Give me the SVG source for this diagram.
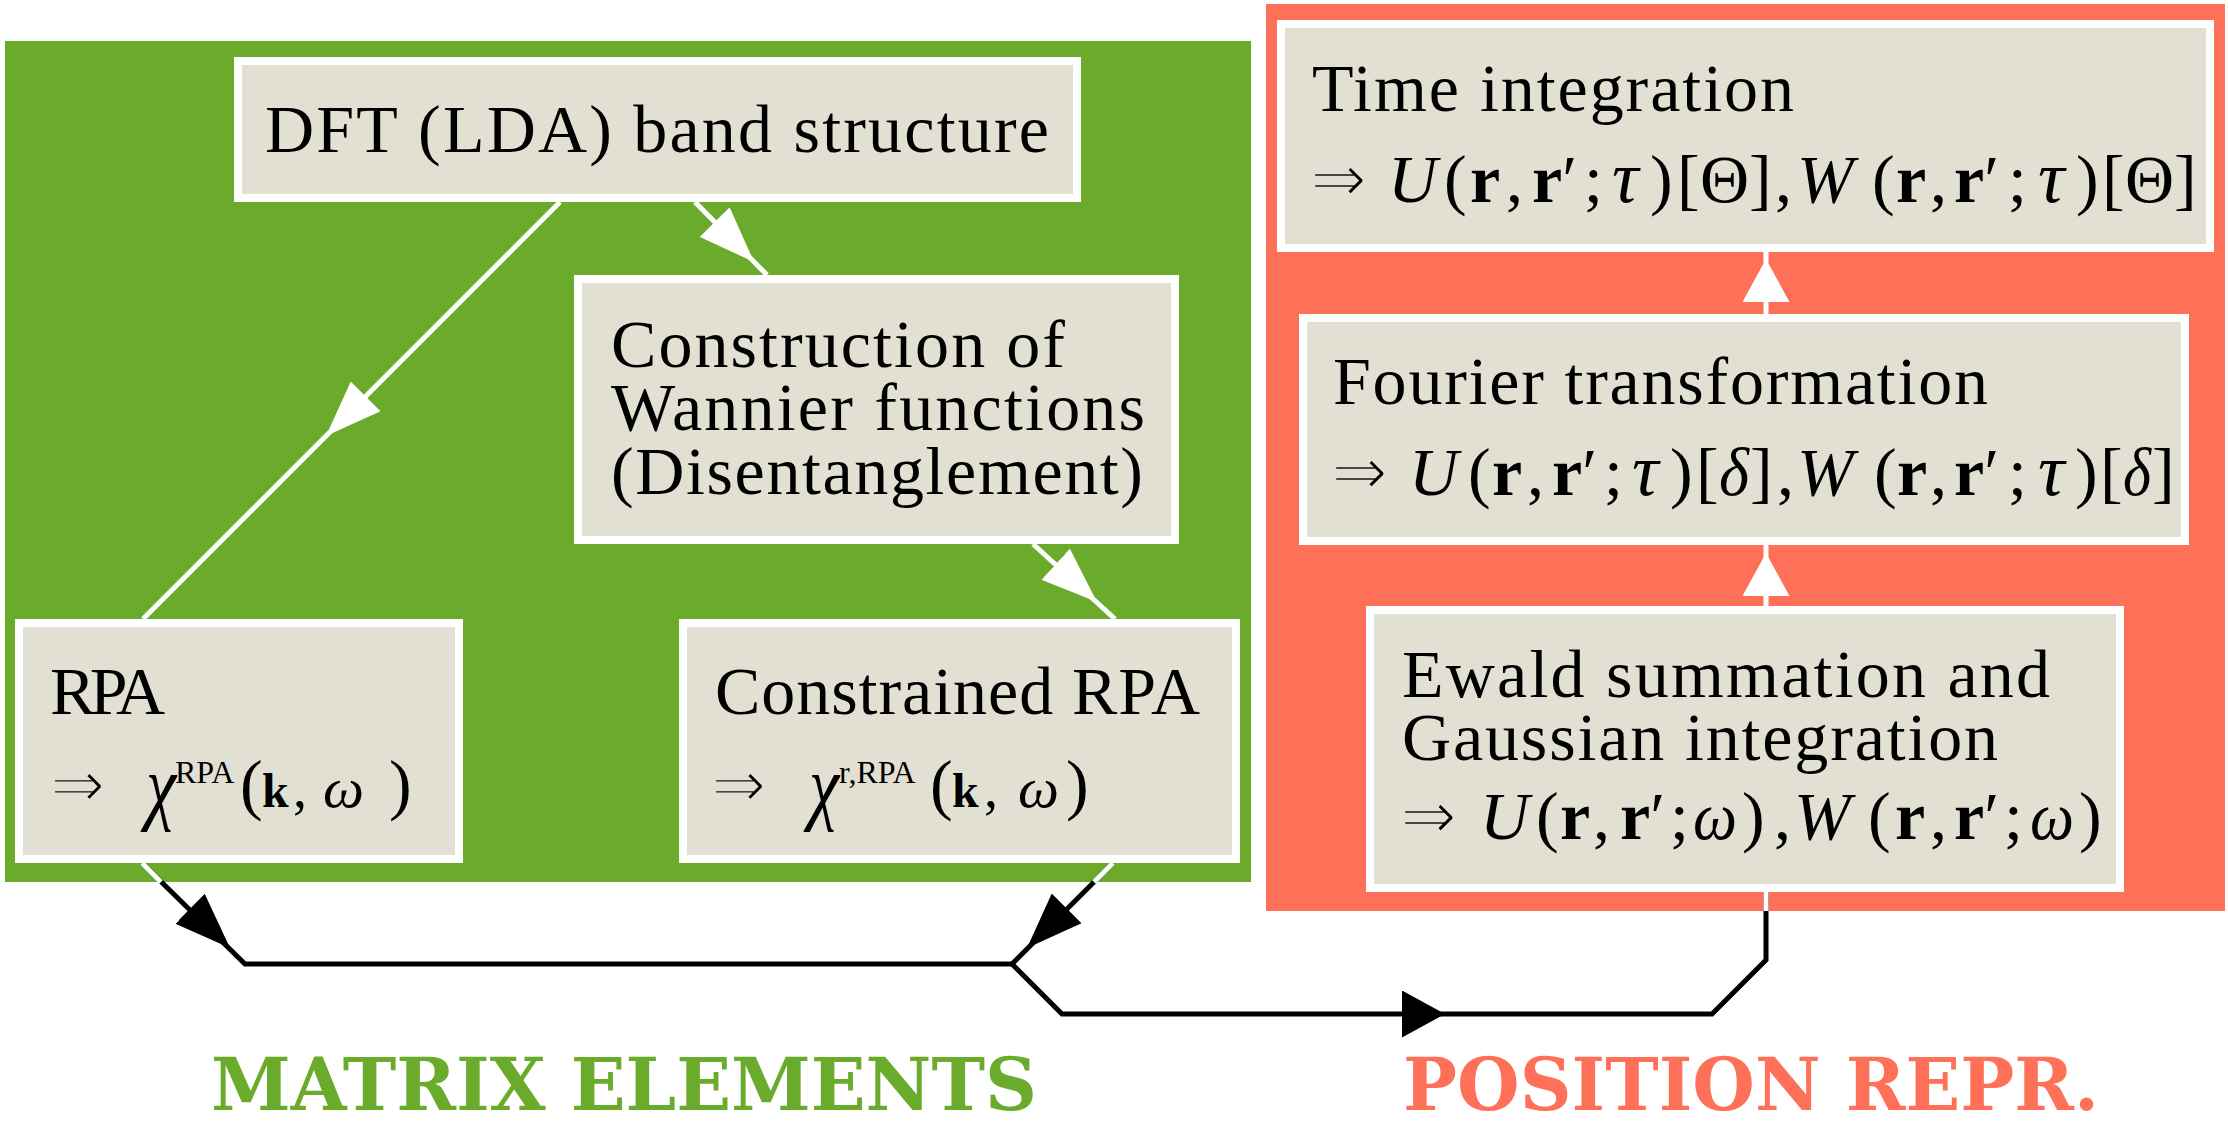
<svg xmlns="http://www.w3.org/2000/svg" width="2228" height="1125" viewBox="0 0 2228 1125">
<style>
.panelG{fill:#6BAB2B}
.panelR{fill:#FF7058}
.box{fill:#E2E0D3;stroke:#FFFFFF;stroke-width:8}
.t{font-family:"Liberation Serif","DejaVu Serif",serif;font-size:68px;fill:#000}
.m{font-family:"Liberation Serif","DejaVu Serif",serif;font-size:68px;fill:#000}
.ar{font-family:"DejaVu Sans","Liberation Sans",sans-serif;stroke:#E2E0D3;stroke-width:2.6px}
.i{font-style:italic}
.b{font-weight:bold}
.sup{font-size:32px}
.tau{font-size:74px}
.lw{fill:none;stroke:#FFFFFF;stroke-width:5}
.lb{fill:none;stroke:#000000;stroke-width:5}
.lab{font-family:"DejaVu Serif","Liberation Serif",serif;font-size:73px;font-weight:bold}
</style>
<defs>
<marker id="aw" viewBox="0 0 56 42" markerWidth="56" markerHeight="42" refX="56" refY="21" orient="auto" markerUnits="userSpaceOnUse"><path d="M0,0 L56,21 L0,42 z" fill="#FFFFFF"/></marker>
<marker id="ab" viewBox="0 0 56 42" markerWidth="56" markerHeight="42" refX="56" refY="21" orient="auto" markerUnits="userSpaceOnUse"><path d="M0,0 L56,21 L0,42 z" fill="#000000"/></marker>
<marker id="aw2" viewBox="0 0 43 47" markerWidth="43" markerHeight="47" refX="43" refY="23.5" orient="auto" markerUnits="userSpaceOnUse"><path d="M0,0 L43,23.5 L0,47 z" fill="#FFFFFF"/></marker>
<marker id="ab2" viewBox="0 0 43 47" markerWidth="43" markerHeight="47" refX="43" refY="23.5" orient="auto" markerUnits="userSpaceOnUse"><path d="M0,0 L43,23.5 L0,47 z" fill="#000000"/></marker>
</defs>
<rect width="2228" height="1125" fill="#FFFFFF"/>
<g id="panels">
<rect class="panelG" x="5" y="41" width="1246" height="841"/>
<rect class="panelR" x="1266" y="4" width="959" height="907"/>
</g>
<g id="connectors">
<path class="lw" d="M560,202 L143,619"/>
<path d="M365.6,396.4 L326,436" marker-end="url(#aw)"/>
<path class="lw" d="M695,202 L767,275"/>
<path d="M714.7,222.1 L754,262" marker-end="url(#aw)"/>
<path class="lw" d="M1033,544 L1115,619"/>
<path d="M1055.7,564.2 L1097,602" marker-end="url(#aw)"/>
<path class="lb" d="M142,863 L245,964 L1012,964"/>
<path class="lw" d="M142,863 L161,882"/>
<path d="M190,908.8 L230,948" marker-end="url(#ab)"/>
<path class="lb" d="M1113,863 L1012,964"/>
<path class="lw" d="M1113,863 L1094,882"/>
<path d="M1066.6,908.4 L1027,948" marker-end="url(#ab)"/>
<path class="lb" d="M1012,964 L1062,1014 L1712,1014 L1766,960 L1766,892"/>
<path class="lw" d="M1766,892 L1766,911"/>
<path d="M1402,1014 L1445,1014" marker-end="url(#ab2)"/>
<path class="lw" d="M1766,606 L1766,545"/>
<path d="M1766,596 L1766,553" marker-end="url(#aw2)"/>
<path class="lw" d="M1766,314 L1766,252"/>
<path d="M1766,302 L1766,259" marker-end="url(#aw2)"/>
</g>
<g id="node-dft">
<rect class="box" x="238" y="61" width="839" height="137"/>
<text class="t" x="265" y="152" textLength="784" lengthAdjust="spacing">DFT (LDA) band structure</text>
</g>
<g id="node-wannier">
<rect class="box" x="578" y="279" width="597" height="261"/>
<text class="t" x="611" y="367" textLength="454" lengthAdjust="spacing">Construction of</text>
<text class="t" x="611" y="430" textLength="534" lengthAdjust="spacing">Wannier functions</text>
<text class="t" x="611" y="494" textLength="532" lengthAdjust="spacing">(Disentanglement)</text>
</g>
<g id="node-rpa">
<rect class="box" x="19" y="623" width="440" height="236"/>
<text class="t" x="50" y="714" textLength="115" lengthAdjust="spacing">RPA</text>
<text class="m" y="807"><tspan class="ar" x="50" font-size="66">⇒</tspan><tspan class="i" x="146" y="814" font-size="84" textLength="30" lengthAdjust="spacingAndGlyphs">χ</tspan><tspan class="sup" x="175" y="783">RPA</tspan><tspan x="240" y="807">(</tspan><tspan class="b" x="262" font-size="48">k</tspan><tspan x="293" font-size="56">,</tspan><tspan class="i" x="323" font-size="58" textLength="41" lengthAdjust="spacingAndGlyphs">ω</tspan><tspan x="389">)</tspan></text>
</g>
<g id="node-crpa">
<rect class="box" x="683" y="623" width="553" height="236"/>
<text class="t" x="715" y="714" textLength="485" lengthAdjust="spacing">Constrained RPA</text>
<text class="m" y="807"><tspan class="ar" x="711" font-size="66">⇒</tspan><tspan class="i" x="809" y="814" font-size="84" textLength="30" lengthAdjust="spacingAndGlyphs">χ</tspan><tspan class="sup" x="839" y="783">r,RPA</tspan><tspan x="930" y="807">(</tspan><tspan class="b" x="952" font-size="48">k</tspan><tspan x="984" font-size="56">,</tspan><tspan class="i" x="1018" font-size="58" textLength="41" lengthAdjust="spacingAndGlyphs">ω</tspan><tspan x="1066">)</tspan></text>
</g>
<g id="node-time">
<rect class="box" x="1281" y="24" width="929" height="224"/>
<text class="t" x="1312" y="111" textLength="482" lengthAdjust="spacing">Time integration</text>
<text class="m" y="202"><tspan class="ar" x="1310">⇒</tspan><tspan class="i" x="1388">U</tspan><tspan x="1444">(</tspan><tspan class="b" x="1470">r</tspan><tspan x="1506">,</tspan><tspan class="b" x="1532">r</tspan><tspan>′</tspan><tspan x="1584">;</tspan><tspan class="i tau" x="1612">τ</tspan><tspan x="1650">)</tspan><tspan x="1677">[</tspan><tspan x="1700">Θ</tspan><tspan x="1749">]</tspan><tspan x="1775">,</tspan><tspan class="i" x="1797">W</tspan><tspan x="1872">(</tspan><tspan class="b" x="1896">r</tspan><tspan x="1930">,</tspan><tspan class="b" x="1954">r</tspan><tspan>′</tspan><tspan x="2008">;</tspan><tspan class="i tau" x="2038">τ</tspan><tspan x="2076">)</tspan><tspan x="2102">[</tspan><tspan x="2125">Θ</tspan><tspan x="2174">]</tspan></text>
</g>
<g id="node-fourier">
<rect class="box" x="1303" y="318" width="882" height="223"/>
<text class="t" x="1333" y="404" textLength="655" lengthAdjust="spacing">Fourier transformation</text>
<text class="m" y="495"><tspan class="ar" x="1331">⇒</tspan><tspan class="i" x="1409">U</tspan><tspan x="1468">(</tspan><tspan class="b" x="1492">r</tspan><tspan x="1527">,</tspan><tspan class="b" x="1552">r</tspan><tspan>′</tspan><tspan x="1604">;</tspan><tspan class="i tau" x="1632">τ</tspan><tspan x="1670">)</tspan><tspan x="1696">[</tspan><tspan class="i" x="1719" textLength="30" lengthAdjust="spacingAndGlyphs">δ</tspan><tspan x="1750">]</tspan><tspan x="1777">,</tspan><tspan class="i" x="1797">W</tspan><tspan x="1874">(</tspan><tspan class="b" x="1897">r</tspan><tspan x="1930">,</tspan><tspan class="b" x="1954">r</tspan><tspan>′</tspan><tspan x="2008">;</tspan><tspan class="i tau" x="2038">τ</tspan><tspan x="2075">)</tspan><tspan x="2100">[</tspan><tspan class="i" x="2123" textLength="28" lengthAdjust="spacingAndGlyphs">δ</tspan><tspan x="2152">]</tspan></text>
</g>
<g id="node-ewald">
<rect class="box" x="1370" y="610" width="750" height="278"/>
<text class="t" x="1402" y="697" textLength="648" lengthAdjust="spacing">Ewald summation and</text>
<text class="t" x="1402" y="760" textLength="596" lengthAdjust="spacing">Gaussian integration</text>
<text class="m" y="839"><tspan class="ar" x="1400">⇒</tspan><tspan class="i" x="1480">U</tspan><tspan x="1536">(</tspan><tspan class="b" x="1560">r</tspan><tspan x="1593">,</tspan><tspan class="b" x="1620">r</tspan><tspan>′</tspan><tspan x="1670">;</tspan><tspan class="i" x="1693" textLength="44" lengthAdjust="spacingAndGlyphs">ω</tspan><tspan x="1742">)</tspan><tspan x="1774">,</tspan><tspan class="i" x="1794">W</tspan><tspan x="1868">(</tspan><tspan class="b" x="1895">r</tspan><tspan x="1930">,</tspan><tspan class="b" x="1954">r</tspan><tspan>′</tspan><tspan x="2004">;</tspan><tspan class="i" x="2030" textLength="44" lengthAdjust="spacingAndGlyphs">ω</tspan><tspan x="2079">)</tspan></text>
</g>
<g id="labels">
<text class="lab" x="211" y="1110" fill="#6BAB2B" textLength="826" lengthAdjust="spacingAndGlyphs">MATRIX ELEMENTS</text>
<text class="lab" x="1403" y="1110" fill="#FF7058" textLength="696" lengthAdjust="spacingAndGlyphs">POSITION REPR.</text>
</g>
</svg>
